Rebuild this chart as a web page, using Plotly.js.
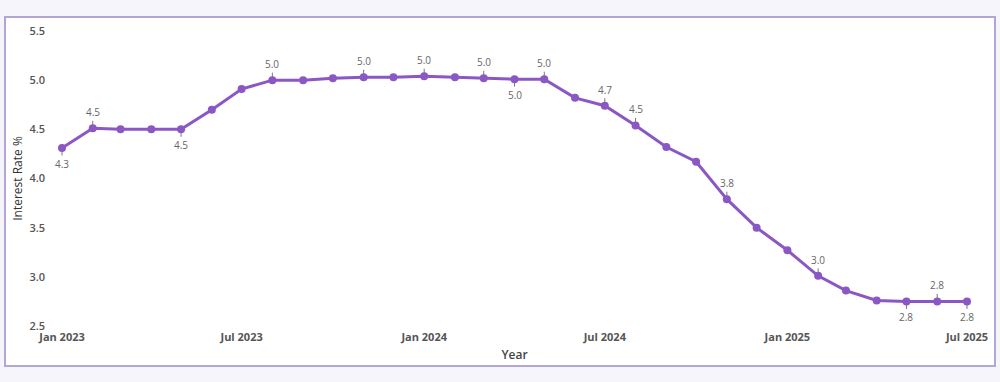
<!DOCTYPE html>
<html>
<head>
<meta charset="utf-8">
<script src="https://cdn.plot.ly/plotly-3.0.1.min.js"></script>
<style>
  html, body { margin: 0; padding: 0; background: #f7f5fc; }
  #chart { width: 1000px; height: 382px; }
</style>
</head>
<body>
<div id="chart"></div>
<script>
// Monthly dates, Jan 2023 .. Jul 2025
const months = [
  "2023-01-01","2023-02-01","2023-03-01","2023-04-01","2023-05-01","2023-06-01",
  "2023-07-01","2023-08-01","2023-09-01","2023-10-01","2023-11-01","2023-12-01",
  "2024-01-01","2024-02-01","2024-03-01","2024-04-01","2024-05-01","2024-06-01",
  "2024-07-01","2024-08-01","2024-09-01","2024-10-01","2024-11-01","2024-12-01",
  "2025-01-01","2025-02-01","2025-03-01","2025-04-01","2025-05-01","2025-06-01",
  "2025-07-01"
];
const rates = [
  4.31, 4.51, 4.50, 4.50, 4.50, 4.70,
  4.91, 5.00, 5.00, 5.02, 5.03, 5.03,
  5.04, 5.03, 5.02, 5.01, 5.01, 4.82,
  4.74, 4.54, 4.32, 4.17, 3.79, 3.50,
  3.27, 3.01, 2.86, 2.76, 2.75, 2.75,
  2.75
];
// indices of labelled points and whether the label sits above (1) or below (-1)
const labelIdx = [0, 1, 4, 7, 10, 12, 14, 15, 16, 18, 19, 22, 25, 28, 29, 30];
const labelSide = [-1, 1, -1, 1, 1, 1, 1, -1, 1, 1, 1, 1, 1, -1, 1, -1];
const xTickVals = ["2023-01-01","2023-07-01","2024-01-01","2024-07-01","2025-01-01","2025-07-01"];
const xTickText = ["Jan 2023","Jul 2023","Jan 2024","Jul 2024","Jan 2025","Jul 2025"];
const yTickVals = [2.5, 3.0, 3.5, 4.0, 4.5, 5.0, 5.5];

const FONT = '"Open Sans", "Noto Sans", sans-serif';
const purple = '#8b57c5';

const annotations = labelIdx.map((i, k) => ({
  x: months[i], y: rates[i], xref: 'x', yref: 'y',
  text: rates[i].toFixed(1),
  showarrow: true, arrowhead: 0, arrowwidth: 1, arrowcolor: '#777',
  ax: 0, ay: -16 * labelSide[k], standoff: 3,
  font: { family: FONT, size: 10, color: '#666' }
}));

const trace = {
  x: months, y: rates, type: 'scatter', mode: 'lines+markers',
  line: { color: purple, width: 3 },
  marker: { color: purple, size: 8 },
  cliponaxis: false,
  hoverinfo: 'x+y'
};

const layout = {
  width: 1000, height: 382,
  margin: { l: 62, r: 33, t: 31, b: 56 },
  paper_bgcolor: '#f7f5fc',
  plot_bgcolor: 'rgba(0,0,0,0)',
  font: { family: FONT, color: '#444' },
  showlegend: false,
  shapes: [{
    type: 'rect', xref: 'paper', yref: 'paper', layer: 'below',
    x0: -57 / 905, x1: 1 + 28 / 905,
    y0: -40 / 295, y1: 1 + 14 / 295,
    fillcolor: '#ffffff',
    line: { color: '#b3a6d4', width: 2 }
  }],
  xaxis: {
    type: 'date',
    range: ['2023-01-01', '2025-07-01'],
    tickvals: xTickVals, ticktext: xTickText,
    showgrid: false, zeroline: false, showline: false, ticks: '',
    ticklabelstandoff: 3,
    tickfont: { family: FONT, size: 11, color: '#555', weight: 'bold' },
    title: { text: 'Year', standoff: 7, font: { family: FONT, size: 12, color: '#444', weight: 600 } }
  },
  yaxis: {
    range: [2.5, 5.5],
    tickvals: yTickVals, ticktext: yTickVals.map(v => v.toFixed(1)),
    showgrid: false, zeroline: false, showline: false, ticks: '',
    ticklabelstandoff: 16,
    tickfont: { family: FONT, size: 11, color: '#555', weight: 600 },
    title: { text: 'Interest Rate %', standoff: 4, font: { family: FONT, size: 12, color: '#333' } }
  },
  annotations: annotations
};

Plotly.newPlot('chart', [trace], layout, { displayModeBar: false, staticPlot: true });
</script>
</body>
</html>
